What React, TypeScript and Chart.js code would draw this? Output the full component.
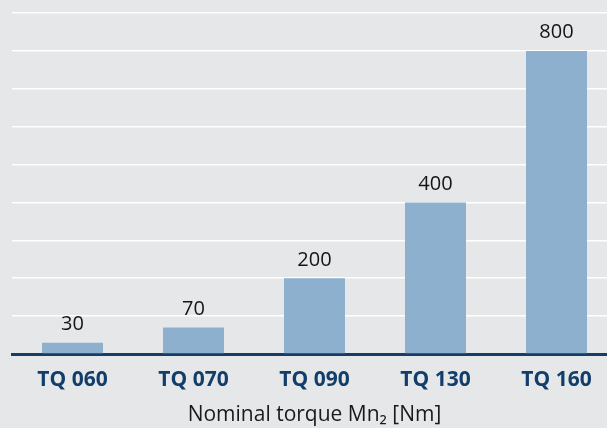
import React, { useEffect, useRef } from "react";
import { Chart, registerables } from "chart.js";

Chart.register(...registerables);

const categories = ["TQ 060", "TQ 070", "TQ 090", "TQ 130", "TQ 160"];
const nominalTorque = [30, 70, 200, 400, 800];
const yMax = 900;
const yStep = 100;
const axisTitle = "Nominal torque Mn₂ [Nm]";

const FAMILY = "'Open Sans', 'Noto Sans', sans-serif";

const valueLabelPlugin = {
  id: "valueLabels",
  afterDatasetsDraw(chart: any) {
    const ctx = chart.ctx;
    const meta = chart.getDatasetMeta(0);
    const data = chart.data.datasets[0].data;
    ctx.save();
    ctx.font = `20px ${FAMILY}`;
    ctx.fillStyle = "#141414";
    ctx.textAlign = "center";
    ctx.textBaseline = "alphabetic";
    meta.data.forEach((bar: any, i: number) => {
      ctx.fillText(String(data[i]), bar.x, bar.y - 12.5);
    });
    ctx.restore();
  },
};

export default function App() {
  const ref = useRef<HTMLCanvasElement>(null);
  useEffect(() => {
    const chart = new Chart(ref.current as HTMLCanvasElement, {
      type: "bar",
      data: {
        labels: categories,
        datasets: [
          {
            data: nominalTorque,
            backgroundColor: "#8db0ce",
            barPercentage: 0.504,
            categoryPercentage: 1,
          },
        ],
      },
      options: {
        responsive: false,
        animation: false,
        layout: { padding: { left: 12, top: 13, right: 0, bottom: 0 } },
        plugins: { legend: { display: false }, tooltip: { enabled: false } },
        scales: {
          x: {
            z: 1,
            grid: { display: false, drawTicks: false },
            border: { display: true, color: "#163d66", width: 3 },
            ticks: {
              color: "#123e6b",
              font: { size: 21, weight: "bold", family: FAMILY },
              padding: 13,
            },
            title: {
              display: true,
              text: axisTitle,
              color: "#1a1a1a",
              font: { size: 21, family: FAMILY },
              padding: 0,
            },
            afterFit: (s: any) => {
              s.height = 74;
            },
          },
          y: {
            min: 0,
            max: yMax,
            ticks: { display: false, stepSize: yStep },
            grid: { color: "#ffffff", lineWidth: 1.5, drawTicks: false },
            border: { display: false },
          },
        },
      } as any,
      plugins: [valueLabelPlugin],
    });
    return () => chart.destroy();
  }, []);
  return (
    <div
      style={{
        position: "absolute",
        left: 0,
        top: 0,
        width: 607,
        height: 428,
        overflow: "hidden",
        background: "#e6e7e9",
      }}
    >
      <canvas ref={ref} width={617} height={428} style={{ display: "block" }} />
    </div>
  );
}
